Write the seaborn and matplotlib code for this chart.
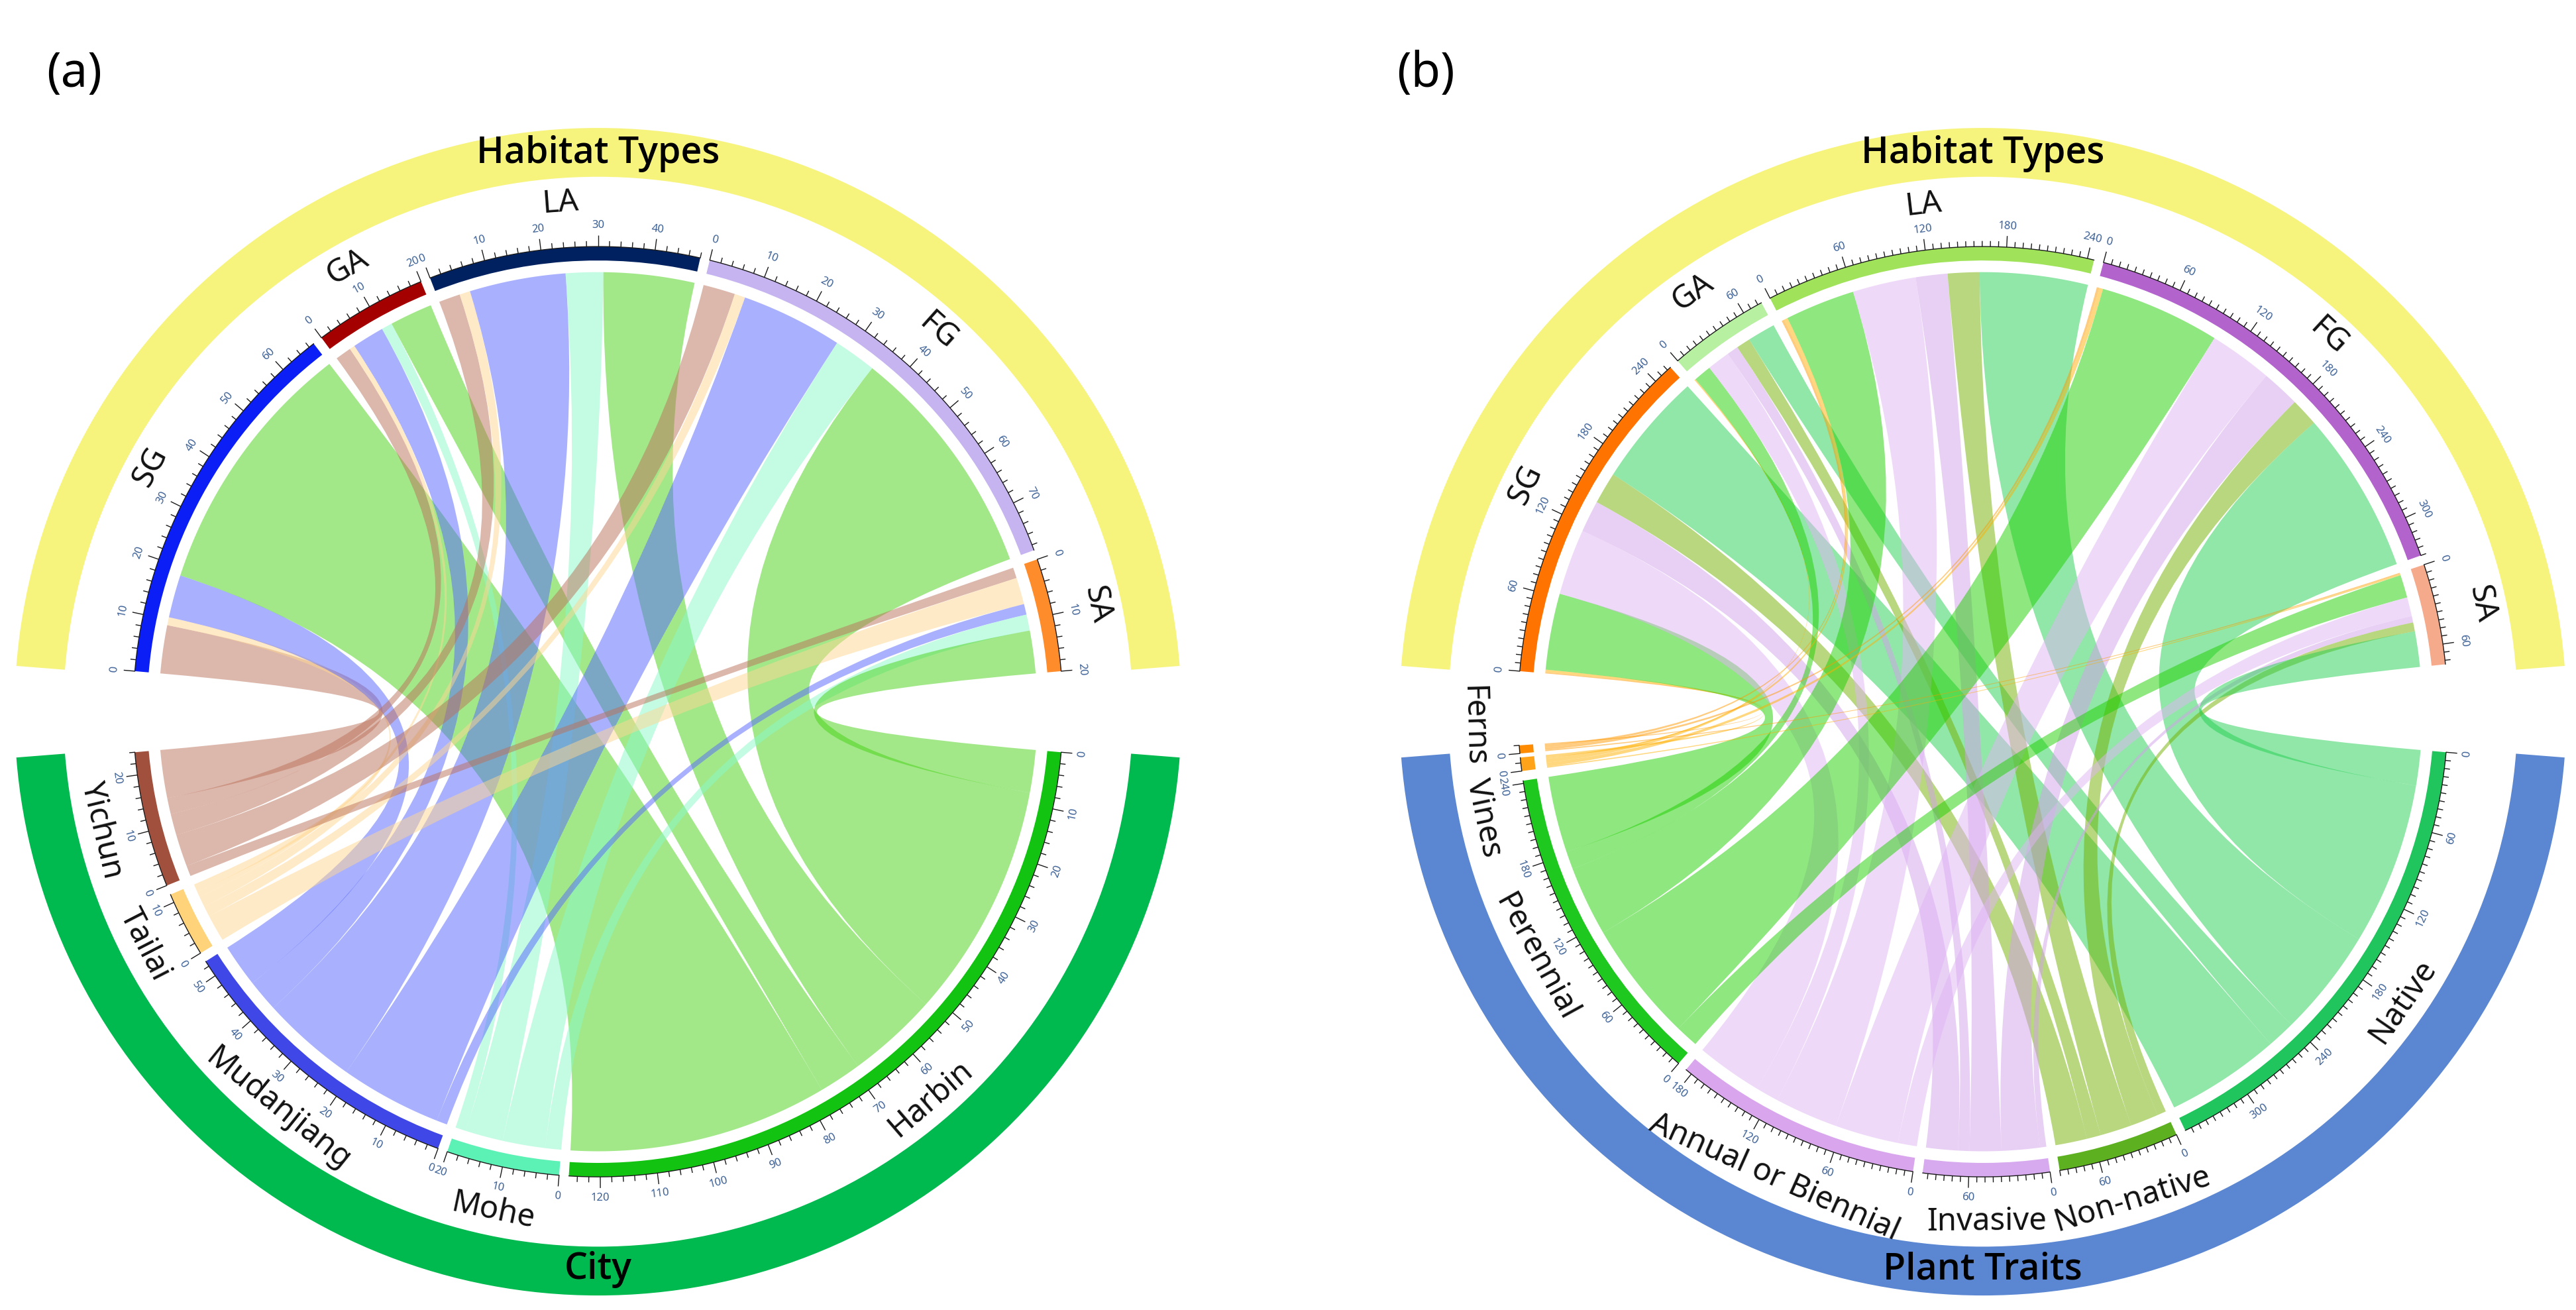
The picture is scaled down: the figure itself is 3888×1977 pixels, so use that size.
import numpy as np
import matplotlib
matplotlib.use("Agg")
import matplotlib.pyplot as plt
from matplotlib.path import Path
from matplotlib.patches import PathPatch, Wedge
import seaborn as sns

sns.set_theme(style="white")
plt.rcParams['font.family'] = ['Noto Sans', 'DejaVu Sans']

# ---------------- data ----------------
habitats = ["SG", "GA", "LA", "FG", "SA"]

# panel (a): habitat x city
cities = ["Yichun", "Tailai", "Mudanjiang", "Mohe", "Harbin"]
sg_city = [9, 1.5, 8, 0, 48.5]
ga_city = [3, 1, 6, 2, 8]
la_city = [4, 2, 18, 7, 17]
fg_city = [6, 2, 19, 8, 44]
sa_city = [2, 5, 2, 3, 8]

# panel (b): habitat x plant trait
traits = ["Ferns", "Vines", "Perennial", "Annual or Biennial", "Invasive", "Non-native", "Native"]
sg_trait = [1, 2, 60, 52, 25, 25, 90]
ga_trait = [0, 1, 14, 18, 9, 11, 22]
la_trait = [2, 3, 55, 50, 25, 25, 85]
fg_trait = [2, 3, 95, 50, 30, 22, 128]
sa_trait = [1, 1, 18, 15, 5, 7, 28]

# ---------------- colours ----------------
hab_cols_a = ["#0A1EF5", "#A50000", "#00215F", "#C6B4F0", "#FF8C2A"]
city_cols = ["#A1503E", "#FFD37A", "#3F47E6", "#5CF2B5", "#12C312"]
city_link = ["#BB7159", "#FFD791", "#5565FF", "#89F9C9", "#47D315"]

hab_cols_b = ["#FF7300", "#B6F0A0", "#A0E35A", "#B263CC", "#F5AA8C"]
trait_cols = ["#FF8C00", "#FFA31A", "#1EC81E", "#D9A6EE", "#D7A9EF", "#5DB01F", "#21C55D"]
trait_link = ["#FF9900", "#FFB000", "#1FD000", "#E0B4F5", "#D2A0EB", "#73B000", "#23D052"]

YELLOW = "#F7F47E"
CITY_BAND = "#00BA50"
TRAIT_BAND = "#5B87D2"
TICK_TXT = "#3a5f95"
TITLE_FONT = ['Open Sans', 'Noto Sans', 'DejaVu Sans']


def pol(cx, cy, r, th):
    t = np.deg2rad(th)
    return cx + r * np.cos(t), cy + r * np.sin(t)


def arc(cx, cy, r, t1, t2):
    n = max(int(abs(t2 - t1) * 3) + 2, 3)
    ts = np.deg2rad(np.linspace(t1, t2, n))
    return np.column_stack([cx + r * np.cos(ts), cy + r * np.sin(ts)])


def ribbon(ax, cx, cy, r, a1, a2, b1, b2, color, alpha, z):
    A = arc(cx, cy, r, a1, a2)
    B = arc(cx, cy, r, b1, b2)
    verts = [tuple(p) for p in A] + [(cx, cy), tuple(B[0])] + [tuple(p) for p in B[1:]] \
        + [(cx, cy), tuple(A[0]), tuple(A[0])]
    codes = [Path.MOVETO] + [Path.LINETO] * (len(A) - 1) + [Path.CURVE3, Path.CURVE3] \
        + [Path.LINETO] * (len(B) - 1) + [Path.CURVE3, Path.CURVE3, Path.CLOSEPOLY]
    ax.add_patch(PathPatch(Path(verts, codes), fc=color, ec='none', alpha=alpha, zorder=z))


def draw_panel(ax, cx, cy, R, rows, cols, M, row_cols, col_cols, link_cols,
               top_name, bot_name, bot_band, major, minor, nudges, gaps=None):
    M = np.asarray(M, float)
    nr, nc = M.shape
    T = M.sum()
    g = 1.2
    gaps = gaps or {}
    col_gaps = [gaps.get(cols[j], g) for j in reversed(range(nc))][:-1]
    u = (340 - (nr - 1) * g - sum(col_gaps)) / (2 * T)
    rt = M.sum(1)
    ct = M.sum(0)
    rstart = []
    a = 175.0
    for i in range(nr):
        rstart.append(a)
        a -= rt[i] * u + g
    cstart = {}
    a = -5.0
    for j in reversed(range(nc)):
        cstart[j] = a
        a -= ct[j] * u + gaps.get(cols[j], g)

    rpos = list(rstart)
    cpos = dict(cstart)
    seg_r = {}
    for i in range(nr):
        for j in range(nc):
            w = M[i, j] * u
            seg_r[(i, j)] = (rpos[i], rpos[i] - w)
            rpos[i] -= w
    seg_c = {}
    for j in range(nc):
        for i in reversed(range(nr)):
            w = M[i, j] * u
            seg_c[(i, j)] = (cpos[j], cpos[j] - w)
            cpos[j] -= w

    rl = 0.945 * R
    for i in range(nr):
        for j in range(nc):
            if M[i, j] <= 0:
                continue
            a1, a2 = seg_r[(i, j)]
            b1, b2 = seg_c[(i, j)]
            ribbon(ax, cx, cy, rl, a1, a2, b1, b2, link_cols[j], 0.5, 2)

    def sector(start, total, color, name, top, nudge=0.0):
        end = start - total * u
        ax.add_patch(Wedge((cx, cy), R, end, start, width=0.03 * R, fc=color, ec='none', zorder=3))
        base = arc(cx, cy, R, start, end)
        ax.plot(base[:, 0], base[:, 1], color='k', lw=1.0, zorder=4)
        v = 0.0
        while v <= total + 1e-9:
            th = start - v * u
            k = v / major
            is_major = abs(k - round(k)) < 1e-6
            r2 = R * (1.024 if is_major else 1.012)
            x1, y1 = pol(cx, cy, R, th)
            x2, y2 = pol(cx, cy, r2, th)
            ax.plot([x1, x2], [y1, y2], color='k', lw=1.0, zorder=4, solid_capstyle='butt')
            if is_major:
                xt, yt = pol(cx, cy, R * 1.045, th)
                rot = th - 90 if top else th + 90
                ax.text(xt, yt, f"{int(round(v))}", rotation=rot, ha='center', va='center',
                        fontsize=12, color=TICK_TXT, zorder=5)
            v += minor
        mid = (start + end) / 2 + nudge
        xl, yl = pol(cx, cy, R * 1.097, mid)
        rot = mid - 90 if top else mid + 90
        ax.text(xl, yl, name, rotation=rot, ha='center', va='center', fontsize=34,
                color='#111111', zorder=5)

    for i in range(nr):
        sector(rstart[i], rt[i], row_cols[i], rows[i], True, nudges.get(rows[i], 0.0))
    for j in range(nc):
        sector(cstart[j], ct[j], col_cols[j], cols[j], False, nudges.get(cols[j], 0.0))

    # outer group bands
    ax.add_patch(Wedge((cx, cy), 1.255 * R, 4.5, 175.5, width=0.105 * R, fc=YELLOW, ec='none', zorder=1))
    ax.add_patch(Wedge((cx, cy), 1.255 * R, -175.5, -4.5, width=0.105 * R, fc=bot_band, ec='none', zorder=1))
    ax.text(cx, cy + 1.2 * R, top_name, ha='center', va='center', fontsize=40, zorder=5,
            color='black', fontweight='semibold', family=TITLE_FONT)
    ax.text(cx, cy - 1.2 * R, bot_name, ha='center', va='center', fontsize=40, zorder=5,
            color='black', fontweight='semibold', family=TITLE_FONT)


fig = plt.figure(figsize=(38.88, 19.77), dpi=100)
ax = fig.add_axes([0, 0, 1, 1])
ax.set_xlim(0, 1568)
ax.set_ylim(0, 797)
ax.axis('off')

Ma = [sg_city, ga_city, la_city, fg_city, sa_city]
Mb = [sg_trait, ga_trait, la_trait, fg_trait, sa_trait]

draw_panel(ax, 364, 364, 283, habitats, cities, Ma, hab_cols_a, city_cols, city_link,
           "Habitat Types", "City", CITY_BAND, 10, 2, {})
draw_panel(ax, 1207, 364, 283, habitats, traits, Mb, hab_cols_b, trait_cols, trait_link,
           "Habitat Types", "Plant Traits", TRAIT_BAND, 60, 6, {"Ferns": -3.0, "Vines": 5.5},
           gaps={"Vines": 0.5})

ax.text(45, 752, "(a)", fontsize=52, ha='center', va='center', color='black')
ax.text(868, 752, "(b)", fontsize=52, ha='center', va='center', color='black')

fig.savefig("out.png", dpi=100)
